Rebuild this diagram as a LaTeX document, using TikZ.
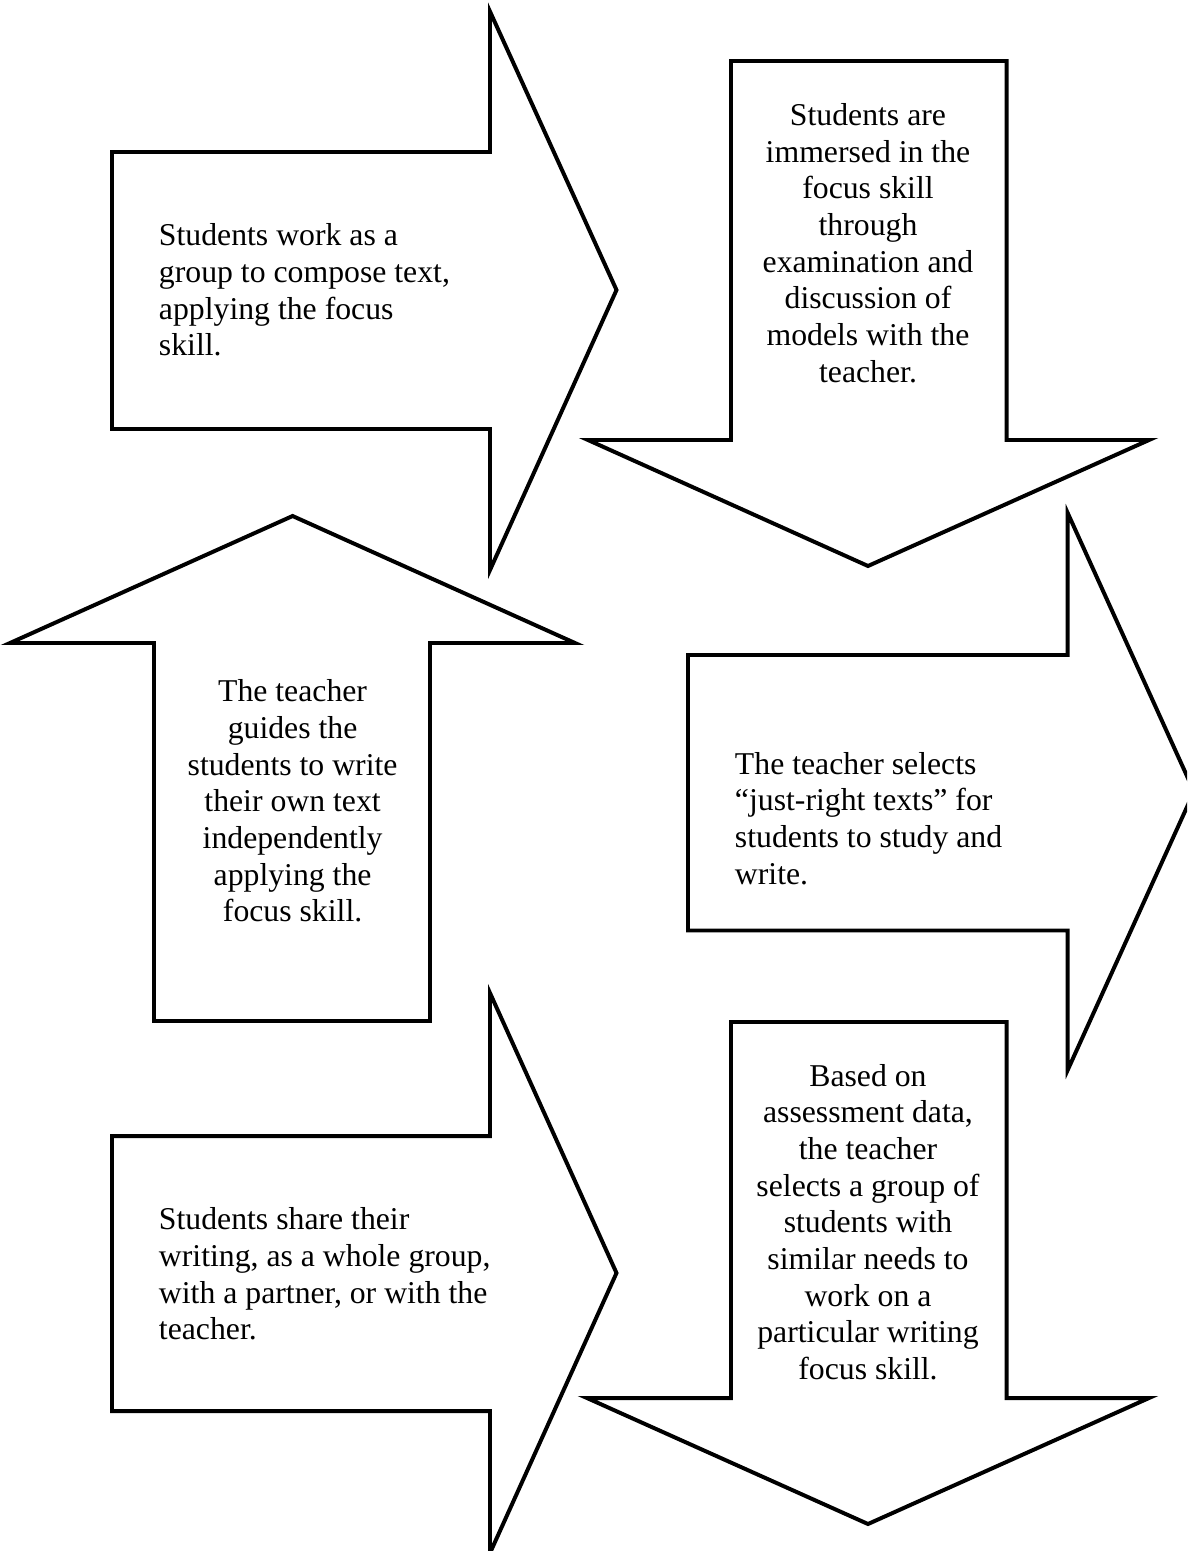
\documentclass[tikz,border=0pt]{standalone}
\usepackage{fontspec}
\setmainfont{Liberation Serif}
\usetikzlibrary{positioning}

\begin{document}
\begin{tikzpicture}[x=0.378pt, y=-0.378pt, line width=1.5pt,
    blockarrow/.style={draw=black, line join=miter},
    steptext/.style={font=\fontsize{12}{13.87}\selectfont, inner sep=0pt}]
    \useasboundingbox (0,0) rectangle (1187,1551);
    \clip (0,0) rectangle (1187,1551);

    % right arrows (left column)
    \draw[blockarrow] (112,152) -- (490,152) -- (490,11.5) -- (616.5,290) -- (490,570) -- (490,429) -- (112,429) -- cycle;
    \draw[blockarrow] (112,1136) -- (490,1136) -- (490,993) -- (616.5,1273) -- (490,1553) -- (490,1411) -- (112,1411) -- cycle;

    % up arrow
    \draw[blockarrow] (154,1021) -- (154,643) -- (10,643) -- (292.6,516) -- (575,643) -- (430,643) -- (430,1021) -- cycle;

    % down arrows (right column)
    \draw[blockarrow] (731,61) -- (1006.6,61) -- (1006.6,440) -- (1149,440) -- (868,566) -- (588,440) -- (731,440) -- cycle;
    \draw[blockarrow] (731,1022) -- (1006.6,1022) -- (1006.6,1398) -- (1149,1398) -- (868,1524) -- (587,1398) -- (731,1398) -- cycle;

    % right arrow (right column)
    \draw[blockarrow] (688,655) -- (1067.7,655) -- (1067.7,513) -- (1194,791.5) -- (1067.7,1070) -- (1067.7,930.5) -- (688,930.5) -- cycle;

    % texts
    \node[steptext, align=left, anchor=west] (compose) at (157,290)
      {Students work as a\\group to compose text,\\applying the focus\\skill.};
    \node[steptext, align=center] (immerse) at (868,243)
      {Students are\\immersed in the\\focus skill\\through\\examination and\\discussion of\\models with the\\teacher.};
    \node[steptext, align=center] (guide) at (292.6,801)
      {The teacher\\guides the\\students to write\\their own text\\independently\\applying the\\focus skill.};
    \node[steptext, align=left, anchor=west] (select) at (733,818.5)
      {The teacher selects\\“just-right texts” for\\students to study and\\write.};
    \node[steptext, align=left, anchor=west] (share) at (157,1274)
      {Students share their\\writing, as a whole group,\\with a partner, or with the\\teacher.};
    \node[steptext, align=center] (assess) at (868,1222)
      {Based on\\assessment data,\\the teacher\\selects a group of\\students with\\similar needs to\\work on a\\particular writing\\focus skill.};

\end{tikzpicture}
\end{document}
